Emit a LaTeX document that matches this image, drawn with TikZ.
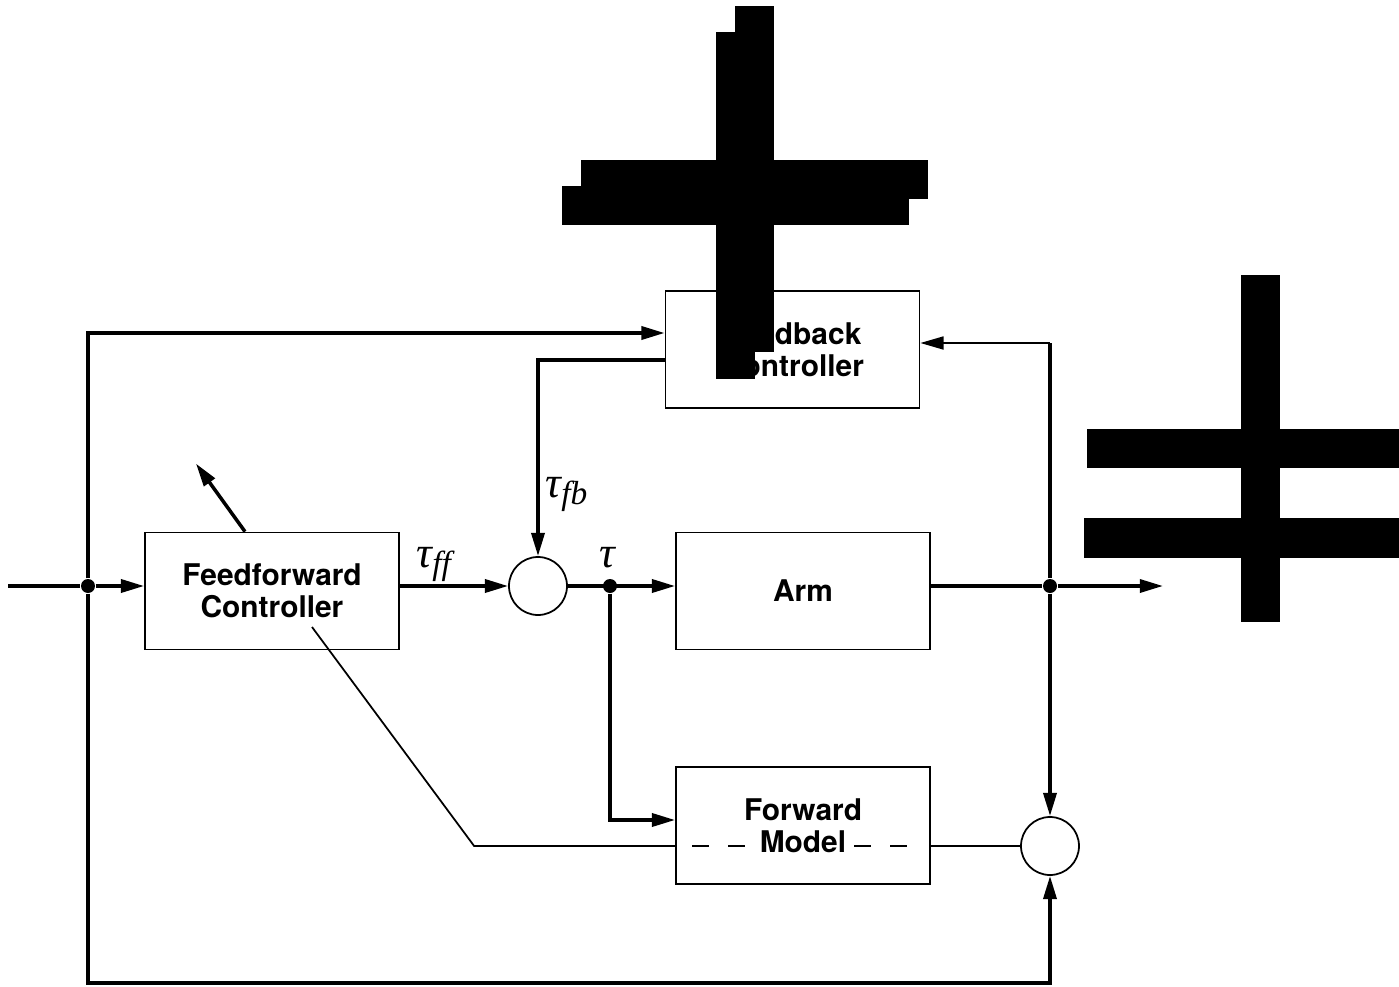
\documentclass[tikz,border=0pt]{standalone}
\usepackage{fontspec}
\setsansfont{TeX Gyre Heros}
\newfontfamily\lblfont{Liberation Serif}
\newcommand{\taulab}[1]{{\lblfont\itshape\fontsize{12.5}{13}\selectfont τ\raisebox{-0.35ex}{\fontsize{9.5}{9.5}\selectfont #1}}}
\usetikzlibrary{arrows.meta}
\begin{document}
\begin{tikzpicture}[>={Triangle[length=6.6pt,width=3.7pt]},
  block/.style={draw,line width=0.5pt,minimum width=2.54cm,minimum height=1.17cm,
    align=center,font=\sffamily\bfseries\fontsize{8.5}{9.1}\selectfont},
  sumnode/.style={draw,circle,line width=0.5pt,minimum size=0.58cm,inner sep=0pt},
  dot/.style={circle,fill,inner sep=0pt,minimum size=0.14cm},
  lbl/.style={anchor=base west,inner sep=0pt},
  sig/.style={line width=1pt},
  thinsig/.style={line width=0.5pt}]
\useasboundingbox (0,0) rectangle (13.99,9.86);

\node[block] (fb) at (7.925,6.365) {Feedback\\Controller};
\node[block] (ff) at (2.72,3.95) {Feedforward\\Controller};
\node[block] (arm) at (8.03,3.95) {Arm};
\node[block] (fm) at (8.03,1.605) {Forward\\Model};

\node[sumnode] (s1) at (5.38,4.00) {};
\node[sumnode] (s2) at (10.50,1.40) {};

\node[dot] (din) at (0.88,4.00) {};
\node[dot] (dtau) at (6.10,4.00) {};
\node[dot] (dout) at (10.50,4.00) {};
\coordinate (in) at (0.08,4.00);
\coordinate (out) at (11.63,4.00);
\coordinate (learn) at (3.12,3.59);
\coordinate (fbin) at ([yshift=0.65mm]fb.east);

\node[lbl] (tauff) at (4.16,4.19) {\taulab{ff}};
\node[lbl] (taufb) at (5.45,4.89) {\taulab{fb}};
\node[lbl] (tau) at (5.99,4.19) {\taulab{}};

% main path
\draw[sig] (in) -- (din);
\draw[sig,->] (din) -- (ff.west |- din);
\draw[sig,->] (ff.east |- s1) -- (s1);
\draw[sig,->] (s1) -- (arm.west |- s1);
\draw[sig] (arm.east |- dout) -- (dout);
\draw[sig,->] (dout) -- (out);

% feedback loop
\draw[sig,->] ([yshift=-1.05mm]fb.west) -| (s1.north);
\draw[sig,->] (din) |- ([yshift=1.65mm]fb.west);
\draw[sig] (dout) -- (dout |- fbin);
\draw[thinsig,->] (dout |- fbin) -- (fbin);

% forward model
\draw[sig,->] (dtau) |- ([yshift=0.55mm]fm.west);
\draw[sig,->] (dout) -- (s2.north);
\draw[sig,->] (din) -- ++(0,-3.97) -| (s2.south);
\draw[thinsig] (fm.west |- s2) -- ++(-2.01,0) -- (learn);
\draw[thinsig] (fm.east |- s2) -- (s2.west);
\draw[thinsig,dash pattern=on 0.17cm off 0.19cm] (6.92,1.40) -- (7.46,1.40);
\draw[thinsig,dash pattern=on 0.17cm off 0.19cm] (8.54,1.40) -- (9.12,1.40);

% adjustable
\draw[sig,->] ([xshift=-2.7mm]ff.north) -- ++(-0.49,0.68);

% black marks
\fill (7.35,9.54) rectangle (7.74,9.80);
\fill (7.16,6.34) rectangle (7.74,9.54);
\fill (7.16,6.07) rectangle (7.55,6.34);
\fill (5.81,7.87) rectangle (9.28,8.26);
\fill (5.62,7.61) rectangle (9.09,8.00);
\fill (12.41,3.64) rectangle (12.80,7.11);
\fill (10.87,5.18) rectangle (13.99,5.57);
\fill (10.84,4.28) rectangle (13.99,4.68);
\end{tikzpicture}
\end{document}
